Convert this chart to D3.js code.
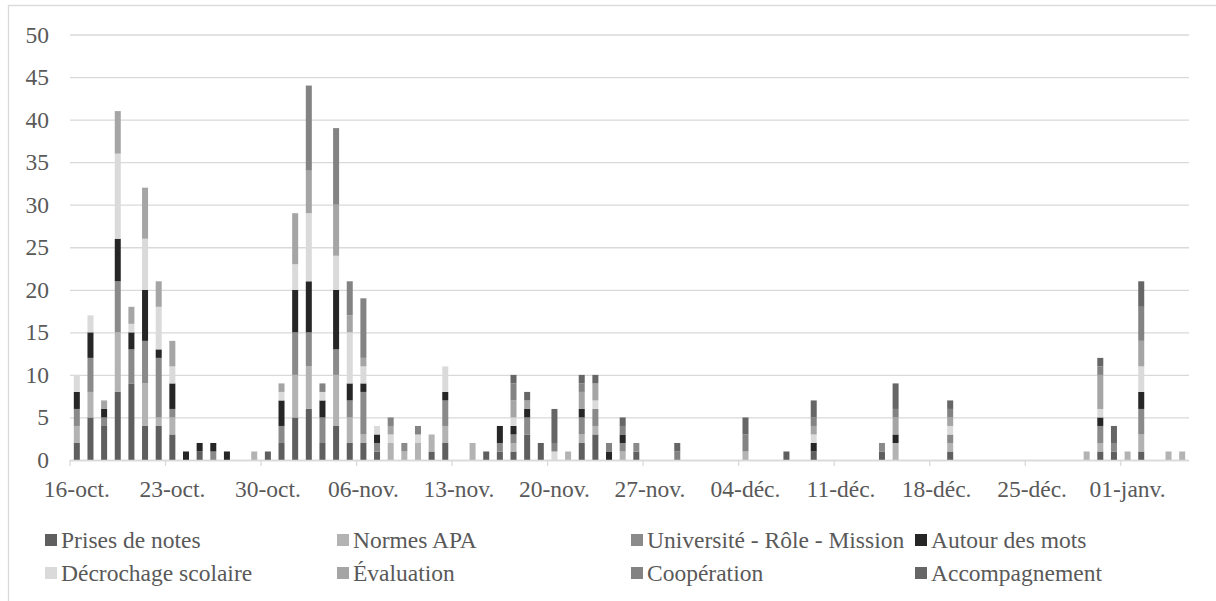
<!DOCTYPE html>
<html>
<head>
<meta charset="utf-8">
<script src="https://cdn.jsdelivr.net/npm/d3@7"></script>
<style>
  body { margin: 0; background: #fff; }
  svg { display: block; }
  text { font-family: "Liberation Serif", "Times New Roman", serif; fill: #595959; }
</style>
</head>
<body>
<div id="chart"></div>
<script>
// one value per day, 16-oct. -> 05-janv. (7 days per line)
const prisesDeNotes = [
  2,5,4,8,9,4,4, 3,0,1,0,0,0,0, 1,2,5,6,2,4,2, 2,1,0,0,0,1,2,
  0,0,1,1,1,3,2, 0,0,2,3,0,0,1, 0,0,0,0,0,0,0, 0,0,0,1,0,1,0,
  0,0,0,1,0,0,0, 0,1,0,0,0,0,0, 0,0,0,0,0,1,1, 0,1,0,0,0];
const normesAPA = [
  2,3,0,7,0,5,1, 2,0,0,0,0,0,1, 0,0,5,5,0,6,3, 1,0,2,1,2,2,2,
  0,2,0,0,1,0,0, 0,1,1,1,0,1,0, 0,0,0,0,0,0,0, 1,0,0,0,0,0,0,
  0,0,0,0,2,0,0, 0,1,0,0,0,0,0, 0,0,0,0,1,1,0, 1,2,0,1,1];
const universite = [
  2,4,1,6,4,5,7, 1,0,0,1,0,0,0, 0,2,5,4,3,3,2, 5,1,0,1,0,0,3,
  0,0,0,1,1,2,0, 0,0,2,2,0,1,1, 0,0,0,0,0,0,0, 0,0,0,0,0,0,0,
  0,0,0,1,0,0,0, 0,1,0,0,0,0,0, 0,0,0,0,0,2,1, 0,3,0,0,0];
const autourDesMots = [
  2,3,1,5,2,6,1, 3,1,1,1,1,0,0, 0,3,5,6,2,7,2, 1,1,0,0,0,0,1,
  0,0,0,2,1,1,0, 0,0,1,0,1,1,0, 0,0,0,0,0,0,0, 0,0,0,0,0,1,0,
  0,0,0,0,1,0,0, 0,0,0,0,0,0,0, 0,0,0,0,0,1,0, 0,2,0,0,0];
const decrochage = [
  2,2,0,10,1,6,5, 2,0,0,0,0,0,0, 0,1,3,8,1,4,6, 2,1,1,0,1,0,3,
  0,0,0,0,1,0,0, 1,0,0,1,0,0,0, 0,0,0,0,0,0,0, 0,0,0,0,0,1,0,
  0,0,0,0,0,0,0, 0,1,0,0,0,0,0, 0,0,0,0,0,1,0, 0,3,0,0,0];
const evaluation = [
  0,0,1,5,2,6,3, 3,0,0,0,0,0,0, 0,1,6,5,0,6,2, 1,0,1,0,0,0,0,
  0,0,0,0,2,1,0, 0,0,2,2,0,0,0, 0,0,0,0,0,0,0, 0,0,0,0,0,1,0,
  0,0,0,0,2,0,0, 0,1,0,0,0,0,0, 0,0,0,0,0,4,0, 0,3,0,0,0];
const cooperation = [
  0,0,0,0,0,0,0, 0,0,0,0,0,0,0, 0,0,0,10,1,9,4, 7,0,1,0,1,0,0,
  0,0,0,0,2,0,0, 1,0,1,0,1,1,0, 0,0,1,0,0,0,0, 2,0,0,0,0,1,0,
  0,0,0,0,1,0,0, 0,1,0,0,0,0,0, 0,0,0,0,0,1,0, 0,4,0,0,0];
const accompagnement = [
  0,0,0,0,0,0,0, 0,0,0,0,0,0,0, 0,0,0,0,0,0,0, 0,0,0,0,0,0,0,
  0,0,0,0,1,1,0, 4,0,1,1,0,1,0, 0,0,1,0,0,0,0, 2,0,0,0,0,2,0,
  0,0,0,0,3,0,0, 0,1,0,0,0,0,0, 0,0,0,0,0,1,2, 0,3,0,0,0];

const seriesNames = ["Prises de notes", "Normes APA", "Université - Rôle - Mission", "Autour des mots",
                     "Décrochage scolaire", "Évaluation", "Coopération", "Accompagnement"];
const seriesValues = [prisesDeNotes, normesAPA, universite, autourDesMots,
                      decrochage, evaluation, cooperation, accompagnement];
const seriesColors = ["#5f5f5f", "#b3b3b3", "#8a8a8a", "#262626", "#dadada", "#a5a5a5", "#838383", "#666666"];

const tickLabels = ["16-oct.", "23-oct.", "30-oct.", "06-nov.", "13-nov.", "20-nov.",
                    "27-nov.", "04-déc.", "11-déc.", "18-déc.", "25-déc.", "01-janv."];
const yTicks = [0, 5, 10, 15, 20, 25, 30, 35, 40, 45, 50];

const days = d3.range(prisesDeNotes.length);
const rows = days.map(i => {
    const r = { day: i };
    seriesNames.forEach((n, k) => r[n] = seriesValues[k][i]);
    return r;
});

const W = 1216, H = 601;
const plotLeft = 70, plotRight = 1189, plotTop = 34.5, plotBottom = 460;

const svg = d3.select("#chart").append("svg")
    .attr("width", W)
    .attr("height", H);

// chart border
svg.append("rect")
    .attr("x", 8.5).attr("y", 5.5)
    .attr("width", 1240).attr("height", 640)
    .attr("fill", "none")
    .attr("stroke", "#d9d9d9")
    .attr("stroke-width", 1.3);

const pad = 0.56;
const x = d3.scaleBand()
    .domain(days)
    .range([plotLeft, plotRight])
    .paddingInner(pad)
    .paddingOuter(pad / 2);

const y = d3.scaleLinear()
    .domain([0, 50])
    .range([plotBottom, plotTop]);

// y axis + gridlines
svg.append("g")
    .attr("transform", `translate(${plotLeft},0)`)
    .call(d3.axisLeft(y).tickValues(yTicks).tickSize(-(plotRight - plotLeft)).tickPadding(21))
    .call(g => g.select(".domain").remove())
    .call(g => g.selectAll(".tick line").attr("stroke", "#d9d9d9").attr("stroke-width", 1.3))
    .call(g => g.selectAll(".tick text")
        .attr("font-size", 23.5)
        .attr("fill", "#595959")
        .style("font-family", "Liberation Serif"));

const stack = d3.stack().keys(seriesNames);
const layers = stack(rows);

svg.append("g")
    .selectAll("g")
    .data(layers)
    .join("g")
    .attr("fill", (d, i) => seriesColors[i])
    .selectAll("rect")
    .data(d => d.filter(s => s[1] > s[0]))
    .join("rect")
    .attr("x", d => x(d.data.day))
    .attr("width", x.bandwidth())
    .attr("y", d => y(d[1]))
    .attr("height", d => y(d[0]) - y(d[1]));

// x axis, one label per week
const step = x.step();
const weekDays = days.filter(i => i % 7 === 0);
svg.append("g")
    .attr("transform", `translate(0,${plotBottom})`)
    .call(d3.axisBottom(x).tickValues(weekDays).tickSizeOuter(0).tickSize(6).tickPadding(14)
        .tickFormat((d, i) => tickLabels[i]))
    .call(g => g.select(".domain").attr("stroke", "#d9d9d9").attr("stroke-width", 1.3)
        .attr("d", `M${plotLeft},0.5H${plotRight}`))
    .call(g => g.selectAll(".tick line").attr("stroke", "#d9d9d9").attr("stroke-width", 1.3)
        .attr("x1", -step / 2).attr("x2", -step / 2))
    .call(g => g.selectAll(".tick text")
        .attr("font-size", 23.5)
        .attr("fill", "#595959")
        .style("font-family", "Liberation Serif"));

// legend
const legendX = [45, 337, 631, 915];
const legendY = [540, 573];
const legend = svg.append("g")
    .selectAll("g")
    .data(seriesNames)
    .join("g")
    .attr("transform", (d, i) => `translate(${legendX[i % 4]},${legendY[Math.floor(i / 4)]})`);

legend.append("rect")
    .attr("x", 0)
    .attr("y", -6)
    .attr("width", 12)
    .attr("height", 12)
    .attr("fill", (d, i) => seriesColors[i]);

legend.append("text")
    .attr("x", 16)
    .attr("dy", "0.35em")
    .attr("font-size", 23.5)
    .text(d => d);
</script>
</body>
</html>
